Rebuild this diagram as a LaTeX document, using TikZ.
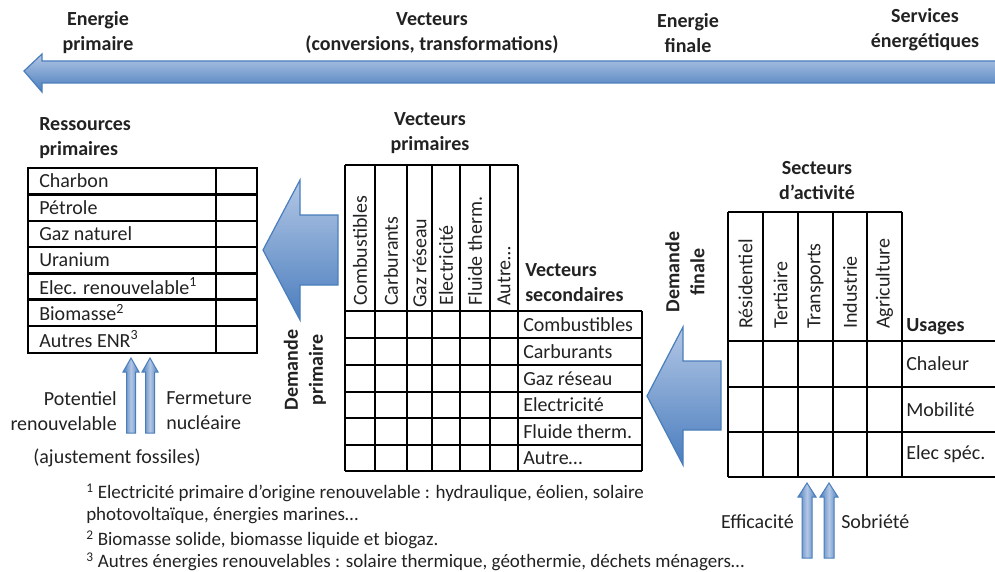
\documentclass[tikz,border=0pt]{standalone}
\usepackage{fontspec}
\setmainfont{Carlito}
\definecolor{ink}{HTML}{222222}
\definecolor{arrowlight}{HTML}{B3C7E5}
\definecolor{arrowdark}{HTML}{4A7DBE}
\definecolor{arrowedge}{HTML}{4A7EBB}

\begin{document}
\begin{tikzpicture}[x=1pt,y=-1pt,line width=2.5pt,
	lbl/.style={inner sep=0pt,text=ink,font=\fontsize{20}{25}\selectfont},
	hd/.style={inner sep=0pt,text=ink,font=\fontsize{20}{25}\selectfont\bfseries,align=center},
	note/.style={inner sep=0pt,anchor=west,text=ink,font=\fontsize{19}{22}\selectfont},
	bigarrow/.style={draw=arrowedge,line width=1.2pt,top color=arrowlight,bottom color=arrowdark},
	thinarrow/.style={draw=arrowedge,line width=1pt,left color=arrowdark,right color=arrowdark,middle color=arrowlight}]
			\useasboundingbox (0,0) rectangle (995,572);
			\clip (0,0) rectangle (995,572);
			% bandeau du haut
			\path[bigarrow] (24,71)--(42,54)--(42,61)--(998,61)--(998,83)--(42,83)--(42,92)--cycle;
			\node[hd] (ep) at (98,33) {Energie\\primaire};
			\node[hd] (vec) at (432,33) {Vecteurs\\(conversions, transformations)};
			\node[hd] (ef) at (688,33) {Energie\\finale};
			\node[hd] (se) at (925,30) {Services\\énergétiques};
			% ressources primaires
			\node[hd,align=left,anchor=west] (rp) at (38,138) {Ressources\\primaires};
			\draw (28,168) rectangle (257,353);
			\draw (216,168)--(216,353);
			\draw (28,194.5)--(257,194.5) (28,221)--(257,221) (28,247)--(257,247);
			\draw (28,273.5)--(257,273.5) (28,299.5)--(257,299.5) (28,326)--(257,326);
			\node[lbl,anchor=west] (charbon) at (38,181) {Charbon};
			\node[lbl,anchor=west] (petrole) at (38,207.5) {Pétrole};
			\node[lbl,anchor=west] (gaz) at (38,234) {Gaz naturel};
			\node[lbl,anchor=west] (uranium) at (38,260) {Uranium};
			\node[lbl,anchor=west] (elec) at (38,286) {Elec. renouvelable\textsuperscript{1}};
			\node[lbl,anchor=west] (biomasse) at (38,312.5) {Biomasse\textsuperscript{2}};
			\node[lbl,anchor=west] (enr) at (38,339) {Autres ENR\textsuperscript{3}};
			\path[thinarrow] (126.5,433)--(126.5,372)--(123,372)--(131,358)--(139,372)--(135.5,372)--(135.5,433)--cycle;
			\path[thinarrow] (145.5,433)--(145.5,372)--(142,372)--(150,358)--(158,372)--(154.5,372)--(154.5,433)--cycle;
			\node[lbl,align=right,anchor=east] (pot) at (118,411) {Potentiel\\renouvelable};
			\node[lbl,align=left,anchor=west] (ferm) at (165,411) {Fermeture\\nucléaire};
			\node[lbl] (ajust) at (117,458) {(ajustement fossiles)};
			% demande primaire
			\path[bigarrow] (263,250)--(300,180)--(300,215)--(338,215)--(338,285)--(300,285)--(300,320)--cycle;
			\node[hd,rotate=90] (dp) at (305,370) {Demande\\primaire};
			% vecteurs
			\node[hd] (vp) at (430,133) {Vecteurs\\primaires};
			\draw (345,165)--(518,165);
			\draw (345,165)--(345,471) (375,165)--(375,471) (407,165)--(407,471) (432,165)--(432,471);
			\draw (460,165)--(460,471) (490,165)--(490,471) (518,165)--(518,471) (642,311)--(642,471);
			\draw (345,311)--(642,311) (345,338)--(642,338) (345,365)--(642,365) (345,392)--(642,392);
			\draw (345,418)--(642,418) (345,445)--(642,445) (345,471)--(642,471);
			\node[lbl,rotate=90,anchor=west] (pcomb) at (360,307) {Combustibles};
			\node[lbl,rotate=90,anchor=west] (pcarb) at (391,307) {Carburants};
			\node[lbl,rotate=90,anchor=west] (pgaz) at (419.5,309) {Gaz réseau};
			\node[lbl,rotate=90,anchor=west] (pelec) at (446,307) {Electricité};
			\node[lbl,rotate=90,anchor=west] (pflu) at (475,307) {Fluide therm.};
			\node[lbl,rotate=90,anchor=west] (paut) at (504,307) {Autre…};
			\node[hd,align=left,anchor=west] (vs) at (524,283) {Vecteurs\\secondaires};
			\node[lbl,anchor=west] (scomb) at (522,324.5) {Combustibles};
			\node[lbl,anchor=west] (scarb) at (522,351.5) {Carburants};
			\node[lbl,anchor=west] (sgaz) at (522,378.5) {Gaz réseau};
			\node[lbl,anchor=west] (selec) at (522,405) {Electricité};
			\node[lbl,anchor=west] (sflu) at (522,431.5) {Fluide therm.};
			\node[lbl,anchor=west] (saut) at (522,458) {Autre…};
			% demande finale
			\path[bigarrow] (647,396)--(683,327)--(683,361)--(721,361)--(721,430)--(683,430)--(683,465)--cycle;
			\node[hd,rotate=90] (df) at (685,272) {Demande\\finale};
			% secteurs
			\node[hd] (sa) at (817,181) {Secteurs\\d’activité};
			\draw (728,212)--(902,212);
			\draw (728,212)--(728,477) (763,212)--(763,477) (798,212)--(798,477);
			\draw (833,212)--(833,477) (867,212)--(867,477) (902,212)--(902,477);
			\draw (728,341)--(998,341) (728,387)--(998,387) (728,432)--(998,432) (728,477)--(998,477);
			\node[lbl,rotate=90,anchor=west] (res) at (745.5,330) {Résidentiel};
			\node[lbl,rotate=90,anchor=west] (ter) at (780.5,330) {Tertiaire};
			\node[lbl,rotate=90,anchor=west] (tra) at (815.5,330) {Transports};
			\node[lbl,rotate=90,anchor=west] (ind) at (850,330) {Industrie};
			\node[lbl,rotate=90,anchor=west] (agr) at (884.5,330) {Agriculture};
			\node[hd,anchor=west] (us) at (905,327) {Usages};
			\node[lbl,anchor=west] (chal) at (905,364) {Chaleur};
			\node[lbl,anchor=west] (mob) at (905,409.5) {Mobilité};
			\node[lbl,anchor=west] (espec) at (905,454.5) {Elec spéc.};
			\path[thinarrow] (802,558)--(802,497)--(798,497)--(807,483)--(816,497)--(812,497)--(812,558)--cycle;
			\path[thinarrow] (824,558)--(824,497)--(820,497)--(829,483)--(838,497)--(834,497)--(834,558)--cycle;
			\node[lbl,anchor=east] (eff) at (795,522) {Efficacité};
			\node[lbl,anchor=west] (sob) at (840,522) {Sobriété};
			% notes
			\node[note] (n1) at (85,493) {\textsuperscript{1} Electricité primaire d’origine renouvelable : hydraulique, éolien, solaire};
			\node[note] (n1b) at (85,516) {photovoltaïque, énergies marines…};
			\node[note] (n2) at (85,540) {\textsuperscript{2} Biomasse solide, biomasse liquide et biogaz.};
			\node[note] (n3) at (85,562) {\textsuperscript{3} Autres énergies renouvelables :  solaire thermique, géothermie, déchets ménagers…};
		\end{tikzpicture}
\end{document}
